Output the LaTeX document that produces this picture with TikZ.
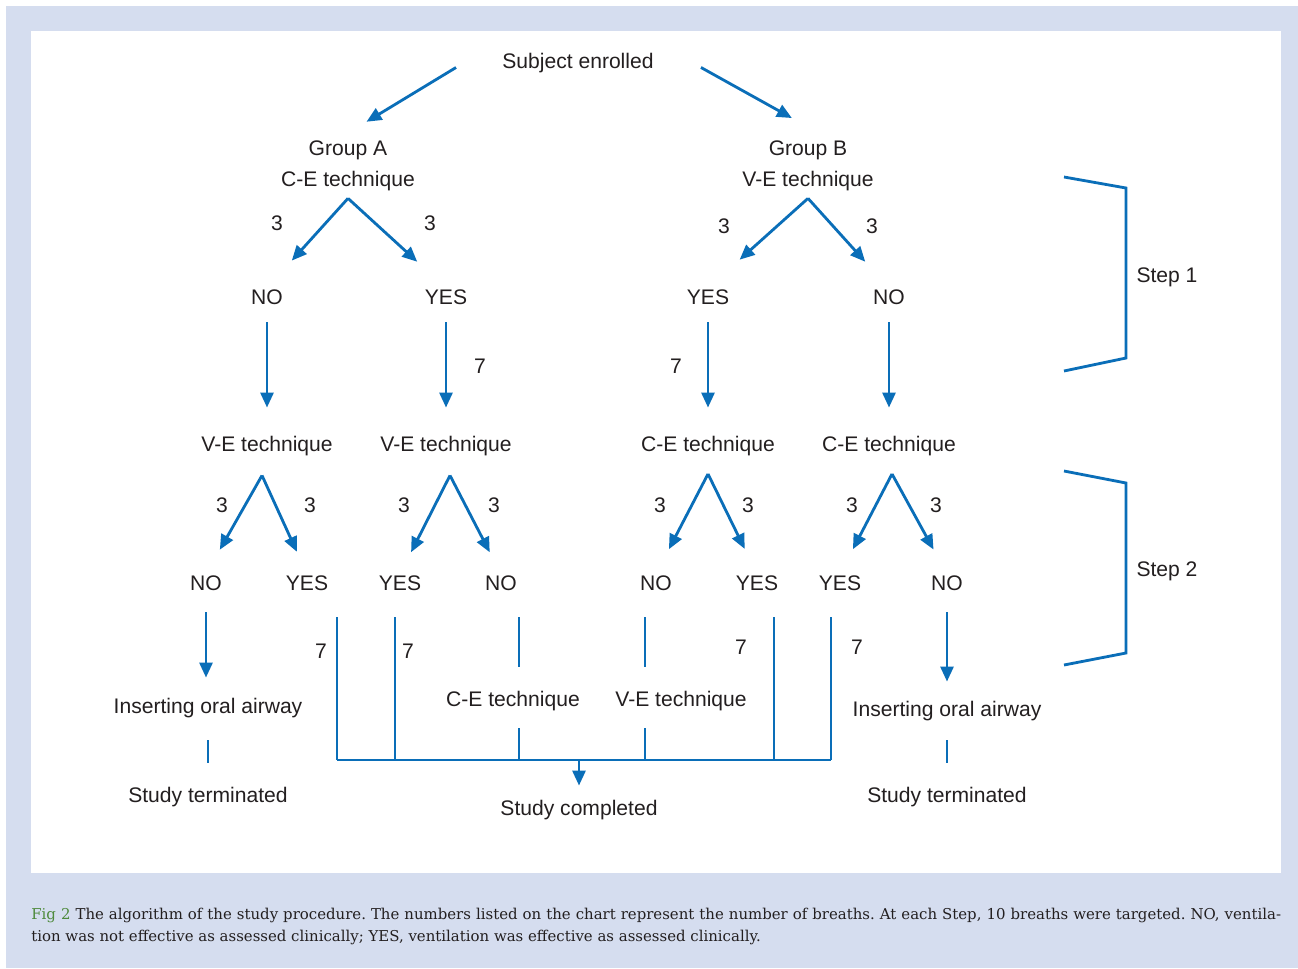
\documentclass[tikz,border=0pt]{standalone}
\usepackage{fontspec}
\setmainfont{Liberation Sans}
\newfontfamily\captionserif{DejaVu Serif}
\usetikzlibrary{calc, positioning, arrows.meta}
\definecolor{chartblue}{HTML}{0A6EB8}
\definecolor{charttext}{HTML}{231F20}
\definecolor{panelbg}{HTML}{D5DDEF}
\definecolor{figgreen}{HTML}{4E8A3C}
\tikzset{
    txt/.style={inner sep=0pt, text height=9pt, text depth=2.5pt, text=charttext, yshift=-0.05cm, font=\fontsize{12}{17.6}\selectfont},
    group_node/.style={inner sep=0pt, align=center, text=charttext, yshift=-0.05cm, font=\fontsize{12}{17.6}\selectfont},
    arrow/.style={line width=1.6pt, draw=chartblue, -{Triangle[length=3mm, width=2.6mm]}},
    line/.style={line width=1.6pt, draw=chartblue},
    fork_arrow/.style={arrow, shorten >=0.78cm},
    drop_arrow/.style={arrow, shorten <=0.27cm, shorten >=0.55cm},
    split_arrow/.style={arrow, shorten >=0.52cm},
    exit_line/.style={line, shorten <=0.45cm},
}
\begin{document}
\begin{tikzpicture}[x=0.02cm, y=-0.02cm]
      \useasboundingbox (0,0) rectangle (1298,968);
      \fill [panelbg] (6,6) rectangle (1298,968);
      \fill [white] (31,31) rectangle (1281,873);

      %%%%%%%%%%%%%%
      % ENROLMENT  %
      %%%%%%%%%%%%%%
      \node (subject) [txt] at (578,60) {Subject enrolled};
      \node (group_A) [group_node] at (348,163) {Group A\\C-E technique};
      \node (group_B) [group_node] at (808,163) {Group B\\V-E technique};

      \coordinate [left=0.92cm of subject.south west, yshift=0.11cm] (tail_A);
      \coordinate [right=0.94cm of subject.south east, yshift=0.11cm] (tail_B);
      \draw [arrow, shorten >=0.71cm] (tail_A) -- (group_A.115);
      \draw [arrow, shorten >=0.91cm] (tail_B) -- (group_B.47);

      %%%%%%%%%%%%%%
      % STEP 1     %
      %%%%%%%%%%%%%%
      \node (no_A) [txt] at (267,296) {NO};
      \node (yes_A) [txt] at (446,296) {YES};
      \node (yes_B) [txt] at (708,296) {YES};
      \node (no_B) [txt] at (889,296) {NO};

      \node (n_no_A) [txt] at (277,222) {3};
      \node (n_yes_A) [txt] at (430,222) {3};
      \node (n_yes_B) [txt] at (724,225) {3};
      \node (n_no_B) [txt] at (872,225) {3};

      \coordinate [below=0.15cm of group_A] (fork_A);
      \coordinate [below=0.15cm of group_B] (fork_B);
      \draw [fork_arrow, shorten >=0.74cm] (fork_A) -- (no_A.north);
      \draw [fork_arrow] (fork_A) -- (yes_A.north);
      \draw [fork_arrow, shorten >=0.85cm] (fork_B) -- (yes_B.north);
      \draw [fork_arrow, shorten >=0.71cm] (fork_B) -- (no_B.north);

      \node (ve_A1) [txt] at (267,443) {V-E technique};
      \node (ve_A2) [txt] at (446,443) {V-E technique};
      \node (ce_B1) [txt] at (708,443) {C-E technique};
      \node (ce_B2) [txt] at (889,443) {C-E technique};

      \node (n_ve_A2) [txt] at (480,365) {7};
      \node (n_ce_B1) [txt] at (676,365) {7};

      \draw [drop_arrow] (no_A.south) -- (ve_A1.north);
      \draw [drop_arrow] (yes_A.south) -- (ve_A2.north);
      \draw [drop_arrow] (yes_B.south) -- (ce_B1.north);
      \draw [drop_arrow] (no_B.south) -- (ce_B2.north);

      \draw [line] (1064,177) -- (1126,188) -- (1126,358) -- (1064,371);
      \node (step_1) [txt] at (1167,274) {Step 1};

      %%%%%%%%%%%%%%
      % STEP 2     %
      %%%%%%%%%%%%%%
      \node (no_1) [txt] at (206,582) {NO};
      \node (yes_1) [txt] at (307,582) {YES};
      \node (yes_2) [txt] at (400,582) {YES};
      \node (no_2) [txt] at (501,582) {NO};
      \node (no_3) [txt] at (656,582) {NO};
      \node (yes_3) [txt] at (757,582) {YES};
      \node (yes_4) [txt] at (840,582) {YES};
      \node (no_4) [txt] at (947,582) {NO};

      \node [txt] at (222,504) {3};
      \node [txt] at (310,504) {3};
      \node [txt] at (404,504) {3};
      \node [txt] at (494,504) {3};
      \node [txt] at (660,504) {3};
      \node [txt] at (748,504) {3};
      \node [txt] at (852,504) {3};
      \node [txt] at (936,504) {3};

      \coordinate [below=0.39cm of ve_A1, xshift=-0.1cm] (split_A1);
      \coordinate [below=0.39cm of ve_A2, xshift=0.08cm] (split_A2);
      \coordinate [below=0.36cm of ce_B1] (split_B1);
      \coordinate [below=0.36cm of ce_B2, xshift=0.06cm] (split_B2);
      \draw [split_arrow, shorten >=0.56cm] (split_A1) -- (no_1.north);
      \draw [split_arrow, shorten >=0.49cm] (split_A1) -- (yes_1.north);
      \draw [split_arrow, shorten >=0.49cm] (split_A2) -- (yes_2.north);
      \draw [split_arrow, shorten >=0.49cm] (split_A2) -- (no_2.north);
      \draw [split_arrow, shorten >=0.56cm] (split_B1) -- (no_3.north);
      \draw [split_arrow, shorten >=0.56cm] (split_B1) -- (yes_3.north);
      \draw [split_arrow, shorten >=0.56cm] (split_B2) -- (yes_4.north);
      \draw [split_arrow, shorten >=0.56cm] (split_B2) -- (no_4.north);

      \draw [line] (1064,471) -- (1126,483) -- (1126,653) -- (1064,665);
      \node (step_2) [txt] at (1167,568) {Step 2};

      %%%%%%%%%%%%%%
      % OUTCOME    %
      %%%%%%%%%%%%%%
      \node (oral_A) [txt] at (208,705) {Inserting oral airway};
      \node (term_A) [txt] at (208,794) {Study terminated};
      \node (oral_B) [txt] at (947,708) {Inserting oral airway};
      \node (term_B) [txt] at (947,794) {Study terminated};
      \node (ce_C) [txt] at (513,698) {C-E technique};
      \node (ve_C) [txt] at (681,698) {V-E technique};
      \node (completed) [txt] at (579,807) {Study completed};

      \node [txt] at (321,650) {7};
      \node [txt] at (408,650) {7};
      \node [txt] at (741,646) {7};
      \node [txt] at (857,646) {7};

      \coordinate (bar_1) at (337,760);
      \coordinate (bar_2) at (395,760);
      \coordinate (bar_3) at (519,760);
      \coordinate (bar_4) at (645,760);
      \coordinate (bar_5) at (774,760);
      \coordinate (bar_6) at (831,760);

      \draw [arrow, shorten <=0.35cm, shorten >=0.39cm] (no_1.south) -- (no_1.south |- oral_A.north);
      \draw [line, shorten <=0.45cm, shorten >=0.47cm] (oral_A.south) -- (term_A.north);
      \draw [arrow, shorten <=0.35cm, shorten >=0.37cm] (no_4.south) -- (oral_B.north);
      \draw [line, shorten <=0.39cm, shorten >=0.47cm] (oral_B.south) -- (term_B.north);

      \draw [exit_line] (bar_1 |- yes_1.south) -- (bar_1);
      \draw [exit_line] (bar_2 |- yes_2.south) -- (bar_2);
      \draw [exit_line, shorten >=0.47cm] (bar_3 |- no_2.south) -- (bar_3 |- ce_C.north);
      \draw [line, shorten <=0.35cm] (bar_3 |- ce_C.south) -- (bar_3);
      \draw [exit_line, shorten >=0.47cm] (bar_4 |- no_3.south) -- (bar_4 |- ve_C.north);
      \draw [line, shorten <=0.35cm] (bar_4 |- ve_C.south) -- (bar_4);
      \draw [exit_line] (bar_5 |- yes_3.south) -- (bar_5);
      \draw [exit_line] (bar_6 |- yes_4.south) -- (bar_6);
      \draw [line] (bar_1) -- (bar_6);
      \draw [arrow, shorten >=0.27cm] (completed.north |- bar_1) -- (completed.north);

      %%%%%%%%%%%%%%
      % CAPTION    %
      %%%%%%%%%%%%%%
      \node (caption) [anchor=base west, inner sep=0pt, align=left, text=charttext,
            font=\captionserif\fontsize{8.5}{12.5}\selectfont\frenchspacing] at (31,941)
            {\makebox[25cm][s]{\textcolor{figgreen}{Fig 2} The algorithm of the study procedure. The numbers listed on the chart represent the number of breaths. At each Step, 10 breaths were targeted. NO, ventila-}\\
             tion was not effective as assessed clinically; YES, ventilation was effective as assessed clinically.};
\end{tikzpicture}
\end{document}
